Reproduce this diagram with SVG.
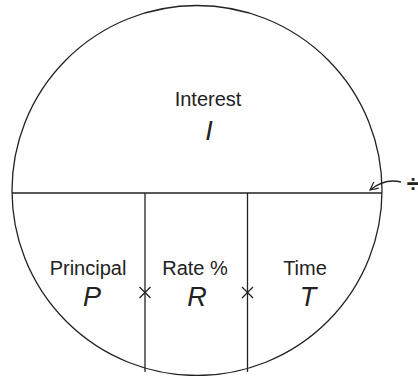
<svg xmlns="http://www.w3.org/2000/svg" width="418" height="376" viewBox="0 0 418 376">
<style>
.ln{fill:none;stroke:#222;stroke-width:1.3}
.lb{font-family:"Liberation Sans",Arial,sans-serif;font-size:20px;fill:#222;text-anchor:middle}
.sy{font-family:"Liberation Sans",Arial,sans-serif;font-size:27px;font-style:italic;fill:#222;text-anchor:middle}
</style>
<defs>
<marker id="ah" markerWidth="10" markerHeight="10" refX="9" refY="5" orient="auto" markerUnits="userSpaceOnUse">
<path d="M1,1 L9,5 L1,9" fill="none" stroke="#222" stroke-width="1.2"/>
</marker>
</defs>
<g id="circle"><circle class="ln" cx="197" cy="190.5" r="185"/></g>
<g id="connectors">
<line class="ln" x1="12" y1="193" x2="382" y2="193"/>
<line class="ln" x1="145" y1="193" x2="145" y2="372"/>
<line class="ln" x1="247.5" y1="193" x2="247.5" y2="372"/>
<path class="ln" d="M139.5,287 L150.5,298 M150.5,287 L139.5,298"/>
<path class="ln" d="M242,287 L253,298 M253,287 L242,298"/>
<path class="ln" d="M401,182 Q385,178 370,190" marker-end="url(#ah)"/>
</g>
<g id="interest"><text class="lb" x="208" y="106">Interest</text><text class="sy" x="209" y="140">I</text></g>
<g id="principal"><text class="lb" x="88" y="275">Principal</text><text class="sy" x="92" y="306">P</text></g>
<g id="rate"><text class="lb" x="195" y="275">Rate %</text><text class="sy" x="197" y="306">R</text></g>
<g id="time"><text class="lb" x="305" y="275">Time</text><text class="sy" x="308" y="306">T</text></g>
<g id="divide"><text class="lb" x="413" y="192" style="font-size:23px;font-weight:bold">÷</text></g>
</svg>
